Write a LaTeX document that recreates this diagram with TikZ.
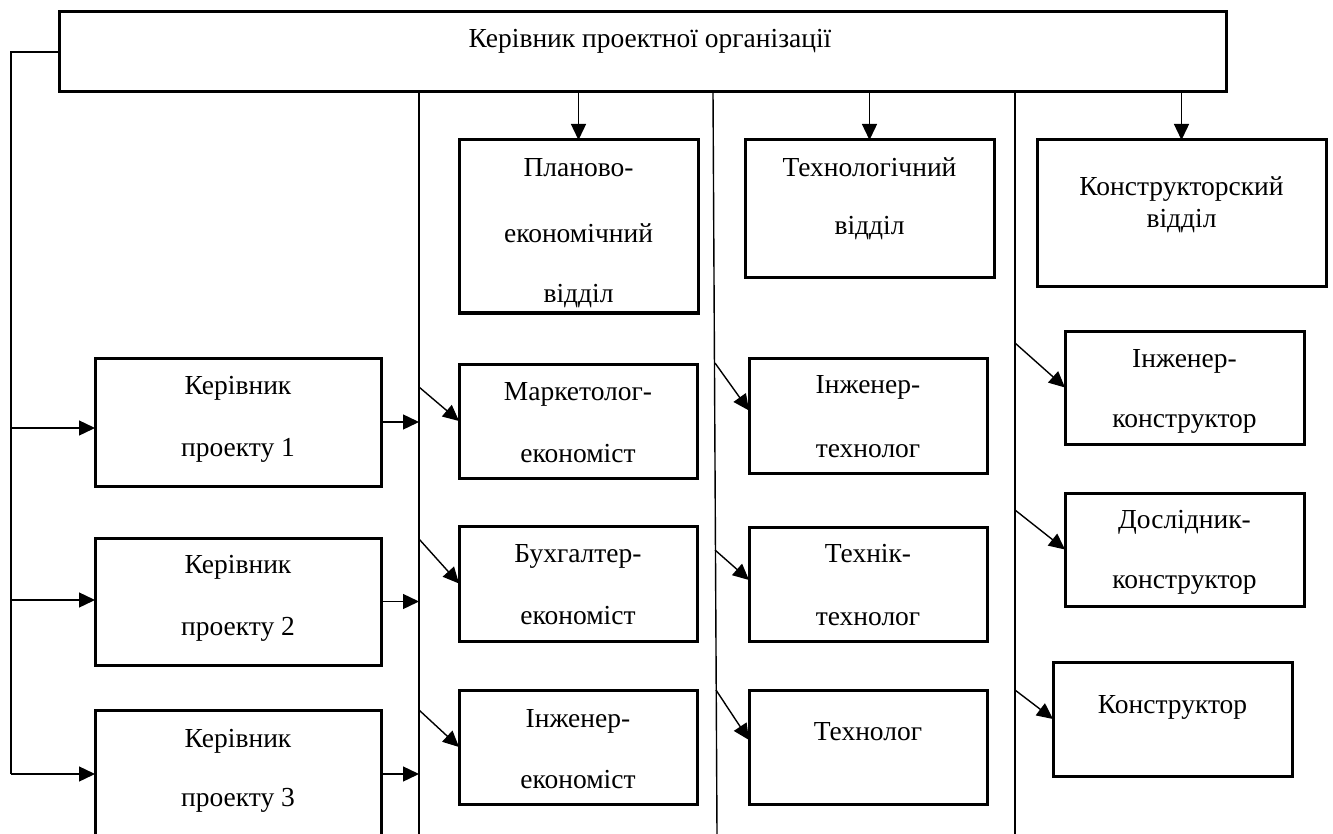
\documentclass[tikz,border=0pt]{standalone}
\usepackage{fontspec}
\setmainfont{Liberation Serif}
\usetikzlibrary{arrows.meta,calc}
\newcommand\mybox[5]{\node[box,minimum width={#4pt-#2pt},minimum height={#5pt-#3pt}] (#1) at ({(#2+#4)/2},{(#3+#5)/2}) {};}
\newcommand\mytext[4]{\node[lbl] (#1) at (#2,#3) {#4};}
\begin{document}
\begin{tikzpicture}[x=1pt,y=-1pt,
  box/.style={draw,line width=3pt,inner sep=0pt,outer sep=0pt},
  lbl/.style={anchor=base,inner sep=0pt,font=\fontsize{27.5}{33}\selectfont},
  ln/.style={line width=1.4pt},
  arr/.style={line width=1.4pt,-{Triangle[length=16pt,width=15pt]}}]
\useasboundingbox (0,0) rectangle (1333,834);
\clip (0,0) rectangle (1333,834);
\fill[white] (0,0) rectangle (1333,834);

% boxes
\mybox{top}{59}{12}{1226}{92}
\mybox{p1}{95}{358}{381}{486}
\mybox{p2}{95}{538}{381}{665}
\mybox{p3}{95}{710}{381}{838}
\mybox{pe}{459}{140}{698}{313}
\mybox{td}{745}{140}{994}{278}
\mybox{kd}{1037}{140}{1326}{287}
\mybox{m1}{459}{364}{697}{478}
\mybox{m2}{459}{526}{697}{641}
\mybox{m3}{459}{690}{697}{804}
\mybox{t1}{749}{358}{987}{473}
\mybox{t2}{749}{527}{987}{641}
\mybox{t3}{749}{690}{987}{804}
\mybox{k1}{1065}{331}{1304}{444}
\mybox{k2}{1065}{493}{1304}{606}
\mybox{k3}{1053}{662}{1292}{776}

% texts
\mytext{topa}{650}{48}{Керівник проектної організації}
\mytext{p1a}{238}{394}{Керівник}
\mytext{p1b}{238}{456}{проекту 1}
\mytext{p2a}{238}{573}{Керівник}
\mytext{p2b}{238}{635}{проекту 2}
\mytext{p3a}{238}{747}{Керівник}
\mytext{p3b}{238}{806}{проекту 3}
\mytext{pea}{578.5}{177}{Планово-}
\mytext{peb}{578.5}{243}{економічний}
\mytext{pec}{578.5}{303}{відділ}
\mytext{tda}{869.5}{177}{Технологічний}
\mytext{tdb}{869.5}{235}{відділ}
\mytext{kda}{1181.5}{196}{Конструкторский}
\mytext{kdb}{1181.5}{228}{відділ}
\mytext{m1a}{578}{400}{Маркетолог-}
\mytext{m1b}{578}{462}{економіст}
\mytext{m2a}{578}{562}{Бухгалтер-}
\mytext{m2b}{578}{624}{економіст}
\mytext{m3a}{578}{727}{Інженер-}
\mytext{m3b}{578}{788}{економіст}
\mytext{t1a}{868}{393}{Інженер-}
\mytext{t1b}{868}{457}{технолог}
\mytext{t2a}{868}{562}{Технік-}
\mytext{t2b}{868}{625}{технолог}
\mytext{t3a}{868}{740}{Технолог}
\mytext{k1a}{1184.5}{367}{Інженер-}
\mytext{k1b}{1184.5}{427}{конструктор}
\mytext{k2a}{1184.5}{528}{Дослідник-}
\mytext{k2b}{1184.5}{588}{конструктор}
\mytext{k3a}{1172.5}{713}{Конструктор}

% vertical column lines
\coordinate (v1t) at (419,92);  \coordinate (v1b) at (419,834);
\coordinate (v2t) at (713,92);  \coordinate (v2b) at (717,834);
\coordinate (v3t) at (1015,92); \coordinate (v3b) at (1015,834);
\draw[ln] (v1t) -- (v1b);
\draw[ln] (v2t) -- (v2b);
\draw[ln] (v3t) -- (v3b);

% left feed line
\coordinate (L1) at (11,428);
\coordinate (L2) at (11,600);
\coordinate (L3) at (11,774);
\draw[ln] (top.west) -| (L3);
\draw[arr] (L1) -- (p1.west |- L1);
\draw[arr] (L2) -- (p2.west |- L2);
\draw[arr] (L3) -- (p3.west |- L3);

% project boxes to line
\draw[arr] (p1.east) -- (p1.east -| v1t);
\draw[arr] (p2.east) -- (p2.east -| v1t);
\draw[arr] (p3.east) -- (p3.east -| v1t);

% top arrows
\draw[arr] (pe.north |- top.south) -- (pe.north);
\draw[arr] (td.north |- top.south) -- (td.north);
\draw[arr] (kd.north |- top.south) -- (kd.north);

% diagonal arrows
\coordinate (dm1) at (419,387);
\coordinate (dm2) at (419,539);
\coordinate (dm3) at (419,710);
\coordinate (dt1) at (715,363);
\coordinate (dt2) at (715,550);
\coordinate (dt3) at (716,690);
\coordinate (dk1) at (1015,343);
\coordinate (dk2) at (1015,510);
\coordinate (dk3) at (1015,690);
\draw[arr] (dm1) -- (m1.west);
\draw[arr] (dm2) -- (m2.west);
\draw[arr] (dm3) -- (m3.west);
\draw[arr] (dt1) -- ($(t1.west)+(0,-5)$);
\draw[arr] (dt2) -- ($(t2.west)+(0,-4)$);
\draw[arr] (dt3) -- ($(t3.west)+(0,-7)$);
\draw[arr] (dk1) -- (k1.west);
\draw[arr] (dk2) -- (k2.west);
\draw[arr] (dk3) -- (k3.west);
\end{tikzpicture}
\end{document}
